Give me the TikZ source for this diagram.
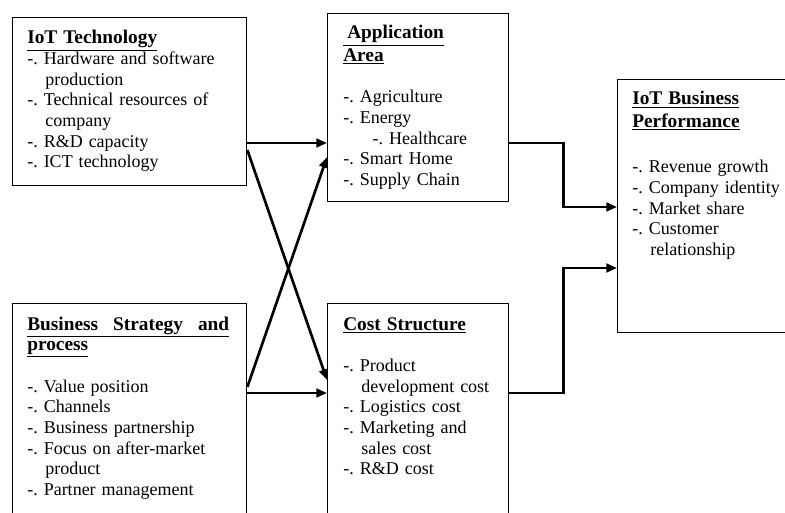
\documentclass[tikz,border=0pt]{standalone}
\usepackage{fontspec}
\setmainfont{Liberation Serif}
\usetikzlibrary{arrows.meta,calc}
\tikzset{
  blk/.style={draw,line width=1pt,inner sep=0pt,anchor=north west},
  txt/.style={anchor=base west,inner sep=0pt,align=left,text width=#1,
    font=\fontsize{13.5}{15.5}\selectfont\frenchspacing},
  conn/.style={-{Triangle[length=8pt,width=6.5pt]},line width=2pt},
}
\newcommand{\hd}[1]{\underline{{\fontsize{14.5}{15.5}\selectfont\bfseries #1}}}
\newcommand{\ind}{\hspace*{13.5pt}}

\begin{document}
\begin{tikzpicture}[x=0.75pt,y=-0.75pt]
  \clip (0,0) rectangle (785,513);
  % boxes
  \node[blk,minimum width=175.5pt,minimum height=126pt] (tech) at (12,17) {};
  \node[blk,minimum width=135.75pt,minimum height=141pt] (app) at (327,13) {};
  \node[blk,minimum width=142.5pt,minimum height=189.75pt] (perf) at (617,79) {};
  \node[blk,minimum width=175.5pt,minimum height=172.5pt] (strat) at (12,303) {};
  \node[blk,minimum width=135.75pt,minimum height=172.5pt] (cost) at (327,303) {};
  % texts
  \node[txt=170pt] (techtxt) at ($(tech.north west)+(15,27)$) {\hd{IoT Technology}\\
    -. Hardware and software\\ \ind production\\
    -. Technical resources of\\ \ind company\\
    -. R\&D capacity\\ -. ICT technology};
  \node[txt=125pt] (apptxt) at ($(app.north west)+(16,26)$) {\hd{\hspace*{3pt}Application}\\[1.5pt]
    \hd{Area}\\ \mbox{}\\
    -. Agriculture\\ -. Energy\\ \hspace*{22pt}-. Healthcare\\
    -. Smart Home\\ -. Supply Chain};
  \node[txt=130pt] (perftxt) at ($(perf.north west)+(15,26)$) {\hd{IoT Business}\\[1.5pt]
    \hd{Performance}\\[3pt] \mbox{}\\
    -. Revenue growth\\ -. Company identity\\ -. Market share\\
    -. Customer\\ \ind relationship};
  \node[txt=170pt] (strattxt) at ($(strat.north west)+(15,27)$) {%
    \hd{\makebox[151.5pt]{Business\hfill Strategy\hfill and}}\\
    \hd{process}\\ \mbox{}\\
    -. Value position\\ -. Channels\\ -. Business partnership\\
    -. Focus on after-market\\ \ind product\\ -. Partner management};
  \node[txt=125pt] (costtxt) at ($(cost.north west)+(16,27)$) {\hd{Cost Structure}\\ \mbox{}\\
    -. Product\\ \ind development cost\\ -. Logistics cost\\
    -. Marketing and\\ \ind sales cost\\ -. R\&D cost};
  % connectors
  \draw[conn] ($(tech.north east)+(0,126)$) -- ($(app.north west)+(0,130)$);
  \draw[conn] ($(tech.north east)+(0,133)$) -- ($(cost.north west)+(0,77)$);
  \draw[conn] ($(strat.north east)+(0,84)$) -- ($(app.north west)+(0,144)$);
  \draw[conn] ($(strat.north east)+(0,90)$) -- ($(cost.north west)+(0,90)$);
  \draw[conn] ($(app.north east)+(0,130)$) -| ($(app.east)!0.5!(perf.west)$)
    |- ($(perf.north west)+(0,128)$);
  \draw[conn] ($(cost.north east)+(0,90)$) -| ($(cost.east)!0.5!(perf.west)$)
    |- ($(perf.north west)+(0,189)$);
\end{tikzpicture}
\end{document}
